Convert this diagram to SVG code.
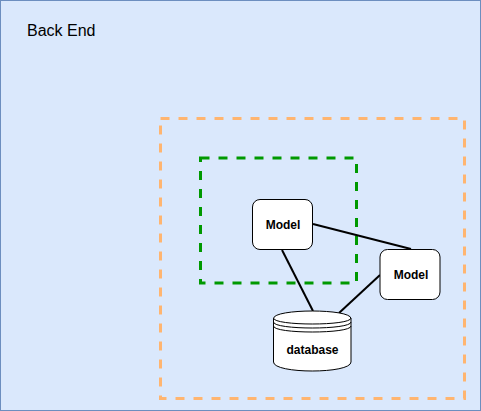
<svg xmlns="http://www.w3.org/2000/svg" width="481" height="411" viewBox="0 0 481 411">
<style>
text{font-family:"Liberation Sans",Arial,sans-serif;fill:#000}
.b{font-size:12px;font-weight:bold;text-anchor:middle}
.n{fill:#fff;stroke:#000;stroke-width:1}
.c{fill:none;stroke:#000;stroke-width:2}
.d{fill:none;stroke-width:3;stroke-dasharray:9 9}
</style>
<g id="back-end"><rect x="0.5" y="0.5" width="480" height="410" fill="#dae8fc" stroke="#6c8ebf"/><text x="27" y="36" font-size="16">Back End</text></g>
<g id="orange-box"><rect x="160.500" y="118.500" width="304" height="280" class="d" stroke="#ffb570"/></g>
<g id="green-box"><rect x="200.500" y="158" width="156" height="125" class="d" stroke="#009900"/></g>
<g id="connectors">
<path class="c" d="M313 224L411 249"/>
<path class="c" d="M282 250L313 311"/>
<path class="c" d="M380 275L339 313"/>
</g>
<g id="model-1"><rect x="252.500" y="199.500" width="60" height="50" rx="7.500" class="n"/><text x="283" y="229" class="b">Model</text></g>
<g id="model-2"><rect x="380" y="249.500" width="60" height="50" rx="7.500" class="n"/><text x="411" y="279" class="b">Model</text></g>
<g id="database"><path class="n" d="M273.500 318.500C273.500 308.500 351 308.500 351 318.500V362C351 374 273.500 374 273.500 362Z"/><path class="c" style="stroke-width:1" d="M273.500 318C273.500 326 351 326 351 318M273.500 322C273.500 330 351 330 351 322M273.500 326C273.500 334 351 334 351 326"/><text x="312.500" y="354" class="b">database</text></g>
</svg>
